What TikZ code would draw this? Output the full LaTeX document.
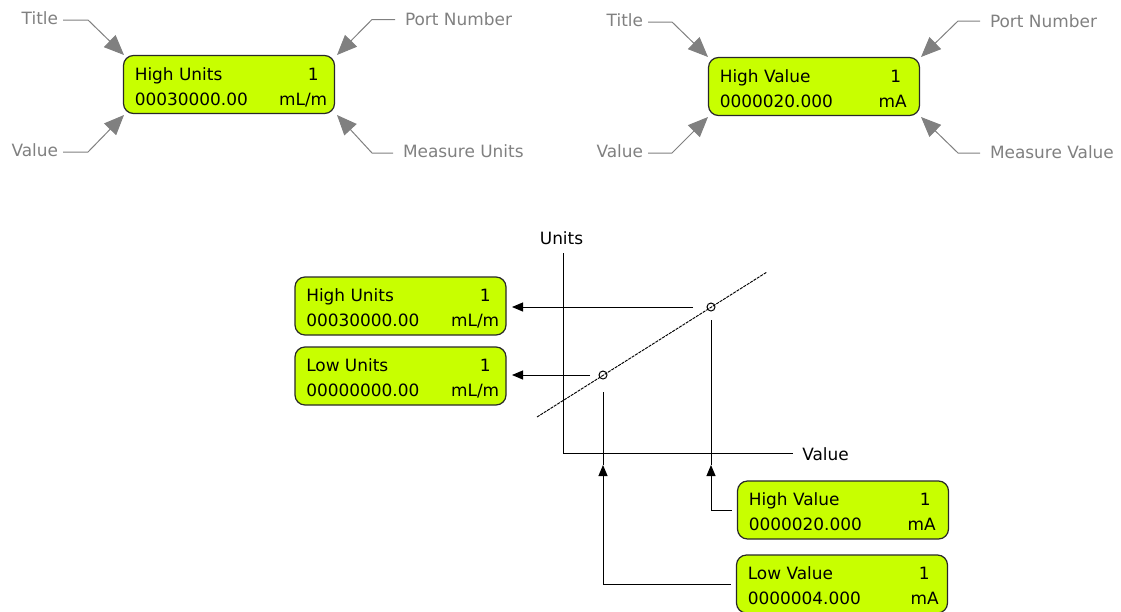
\documentclass[tikz,border=0pt]{standalone}
\usepackage{fontspec}
\setmainfont{DejaVu Sans}
\usetikzlibrary{arrows.meta,calc}
\definecolor{lcdfill}{RGB}{200,255,0}
\definecolor{lcdedge}{RGB}{40,40,40}
\definecolor{callout}{RGB}{128,128,128}
\newcommand\lcdtexts[7]{%
  \node[lcdtxt, anchor=base west] (#1-t) at ($(#1.center)+(-94.5,-4.5)$) {#2};
  \node[lcdtxt, anchor=base east] (#1-p) at ($(#1.center)+(#6,-4.5)$) {#3};
  \node[lcdtxt, anchor=base west] (#1-v) at ($(#1.center)+(-94.5,20.5)$) {#4};
  \node[lcdtxt, anchor=base east] (#1-u) at ($(#1.center)+(#7,20.5)$) {#5};
}
\begin{document}
\begin{tikzpicture}[x=0.75pt,y=-0.75pt,
  font=\fontsize{12.7}{15}\selectfont,
  lcd/.style={draw=lcdedge, line width=0.9pt, fill=lcdfill, rounded corners=7.5pt,
    minimum width=158.25pt, minimum height=43.5pt, inner sep=0pt, outer sep=4.5pt},
  lcdtxt/.style={inner sep=0pt, text=black},
  glabL/.style={text=callout, inner sep=0pt, outer sep=3.75pt},
  glabR/.style={text=callout, inner sep=0pt, outer sep=7.5pt},
  gline/.style={draw=callout, line width=0.75pt, -{Triangle[length=15pt,width=12.5pt]}},
  bline/.style={draw=black, line width=0.75pt},
  barrow/.style={bline, -{Triangle[length=8.25pt,width=6.75pt]}},
  pt/.style={circle, draw=black, line width=0.75pt, minimum size=6pt, inner sep=0pt},
  plain/.style={inner sep=0pt, text=black}]
\useasboundingbox (0,0) rectangle (1121,611);

% ---------- top left LCD with callouts ----------
\node[lcd] (hu1) at (229,84.5) {};
\lcdtexts{hu1}{High Units}{1}{00030000.00}{mL/m}{90}{98.5}

\node[glabL, anchor=east] (tl-title) at (63,18.5) {Title};
\coordinate (tl-k1) at (88,20); \coordinate (tl-a1) at (124,55);
\draw[gline] (tl-title.east |- tl-k1) -- (tl-k1) -- (tl-a1);

\node[glabL, anchor=east] (tl-value) at (63,150.5) {Value};
\coordinate (tl-k2) at (88,152); \coordinate (tl-a2) at (124,115);
\draw[gline] (tl-value.east |- tl-k2) -- (tl-k2) -- (tl-a2);

\node[glabR, anchor=west] (tl-port) at (395,19.5) {Port Number};
\coordinate (tl-k3) at (372,19.5); \coordinate (tl-a3) at (337,55);
\draw[gline] (tl-port.west |- tl-k3) -- (tl-k3) -- (tl-a3);

\node[glabR, anchor=west] (tl-meas) at (393,151.5) {Measure Units};
\coordinate (tl-k4) at (372,153); \coordinate (tl-a4) at (337,115);
\draw[gline] (tl-meas.west |- tl-k4) -- (tl-k4) -- (tl-a4);

% ---------- top right LCD with callouts ----------
\node[lcd] (hv1) at (814,86.5) {};
\lcdtexts{hv1}{High Value}{1}{0000020.000}{mA}{87.5}{93}

\node[glabL, anchor=east] (tr-title) at (648,20.5) {Title};
\coordinate (tr-k1) at (672,22); \coordinate (tr-a1) at (708,57);
\draw[gline] (tr-title.east |- tr-k1) -- (tr-k1) -- (tr-a1);

\node[glabL, anchor=east] (tr-value) at (648,151.5) {Value};
\coordinate (tr-k2) at (672,153); \coordinate (tr-a2) at (708,117);
\draw[gline] (tr-value.east |- tr-k2) -- (tr-k2) -- (tr-a2);

\node[glabR, anchor=west] (tr-port) at (980,21) {Port Number};
\coordinate (tr-k3) at (958,21); \coordinate (tr-a3) at (921,57);
\draw[gline] (tr-port.west |- tr-k3) -- (tr-k3) -- (tr-a3);

\node[glabR, anchor=west] (tr-meas) at (980,152.5) {Measure Value};
\coordinate (tr-k4) at (958,153); \coordinate (tr-a4) at (921,117);
\draw[gline] (tr-meas.west |- tr-k4) -- (tr-k4) -- (tr-a4);

% ---------- graph ----------
\node[plain] (unitslbl) at (561.5,238) {Units};
\node[plain, anchor=west] (valuelbl) at (802,454) {Value};
\coordinate (ytop) at (563,253);
\coordinate (orig) at (563,453);
\coordinate (xend) at (793,453);
\draw[bline] (ytop) -- (orig) -- (xend);

\coordinate (dA) at (537,417);
\coordinate (dB) at (767,272);
\draw[bline, line width=0.7pt, dash pattern=on 2.25pt off 0.75pt] (dA) -- (dB);
\node[pt] (hc) at (711,307) {};
\node[pt] (lc) at (603,375) {};

\node[lcd] (hu) at (400.5,306) {};
\lcdtexts{hu}{High Units}{1}{00030000.00}{mL/m}{90.5}{99}
\node[lcd] (lu) at (400.5,376) {};
\lcdtexts{lu}{Low Units}{1}{00000000.00}{mL/m}{90.5}{99}
\node[lcd] (hv) at (843,510) {};
\lcdtexts{hv}{High Value}{1}{0000020.000}{mA}{88}{93}
\node[lcd] (lv) at (842,584) {};
\lcdtexts{lv}{Low Value}{1}{0000004.000}{mA}{88}{97}

\coordinate (ha) at (693,307);
\coordinate (la) at (590,375);
\draw[barrow] (ha) -- (hu.east |- ha);
\draw[barrow] (la) -- (lu.east |- la);

\coordinate (hvtip) at (711,465);
\coordinate (hvtop) at (711,320);
\coordinate (lvtip) at (603,465);
\coordinate (lvtop) at (603,392);
\draw[barrow] (hv.west) -| (hvtip);
\draw[bline] (hvtip) -- (hvtop);
\draw[barrow] (lv.west) -| (lvtip);
\draw[bline] (lvtip) -- (lvtop);
\end{tikzpicture}
\end{document}
